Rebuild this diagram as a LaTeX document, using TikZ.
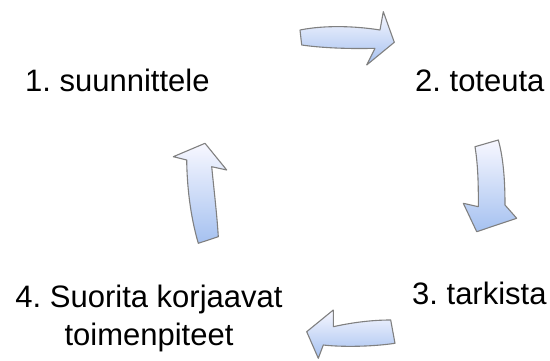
\documentclass[tikz,border=0pt]{standalone}
\usepackage{fontspec}
\setmainfont{Liberation Sans}
\frenchspacing
\begin{document}
\begin{tikzpicture}[x=1pt,y=-1pt,
  blockarrow/.style={draw=black!50, line width=1.1pt, line join=round,
    top color=blue!3!white, bottom color={rgb,255:red,165;green,193;blue,240}},
  lbl/.style={inner sep=0pt, font=\fontsize{31}{38}\selectfont}]
\useasboundingbox (0,0) rectangle (550,361);
% text labels
\node[lbl, anchor=base west] (t1) at (25,92) {1. suunnittele};
\node[lbl, anchor=base west] (t2) at (415,92) {2. toteuta};
\node[lbl, anchor=base west] (t3) at (412,305) {3. tarkista};
\node[lbl, anchor=base, align=center] (t4) at (149,345) {4. Suorita korjaavat\\toimenpiteet};
% arrow 1 -> 2 (top)
\path[blockarrow] (300,30) .. controls (325,25) and (355,26) .. (380,30)
  -- (383.3,11.7) -- (394.3,42.3) -- (366.7,65) -- (375,48.3)
  .. controls (350,49) and (322,48) .. (301.7,45) -- cycle;
% arrow 2 -> 3 (right)
\path[blockarrow] (475,146.7) -- (498.3,140)
  .. controls (504,160) and (505,185) .. (505,205)
  -- (516.7,218.3) -- (476.7,231.7) -- (463.3,203.3) -- (478.3,206.7)
  .. controls (478.5,185) and (478,165) .. (475,146.7) -- cycle;
% arrow 3 -> 4 (bottom)
\path[blockarrow] (390.7,320) .. controls (370,320) and (350,323) .. (333.3,326.7)
  -- (333.3,310) -- (306.7,331.7) -- (318.3,358.3) -- (323.3,345)
  .. controls (340,347) and (370,347) .. (395,343.3) -- cycle;
% arrow 4 -> 1 (left)
\path[blockarrow] (205,143.3) -- (226.7,170) -- (211.7,166.7)
  .. controls (214,190) and (217,215) .. (218.3,236.7)
  -- (198.3,243.3)
  .. controls (190,215) and (187,185) .. (186.7,160)
  -- (173.3,156.7) -- cycle;
\end{tikzpicture}
\end{document}
